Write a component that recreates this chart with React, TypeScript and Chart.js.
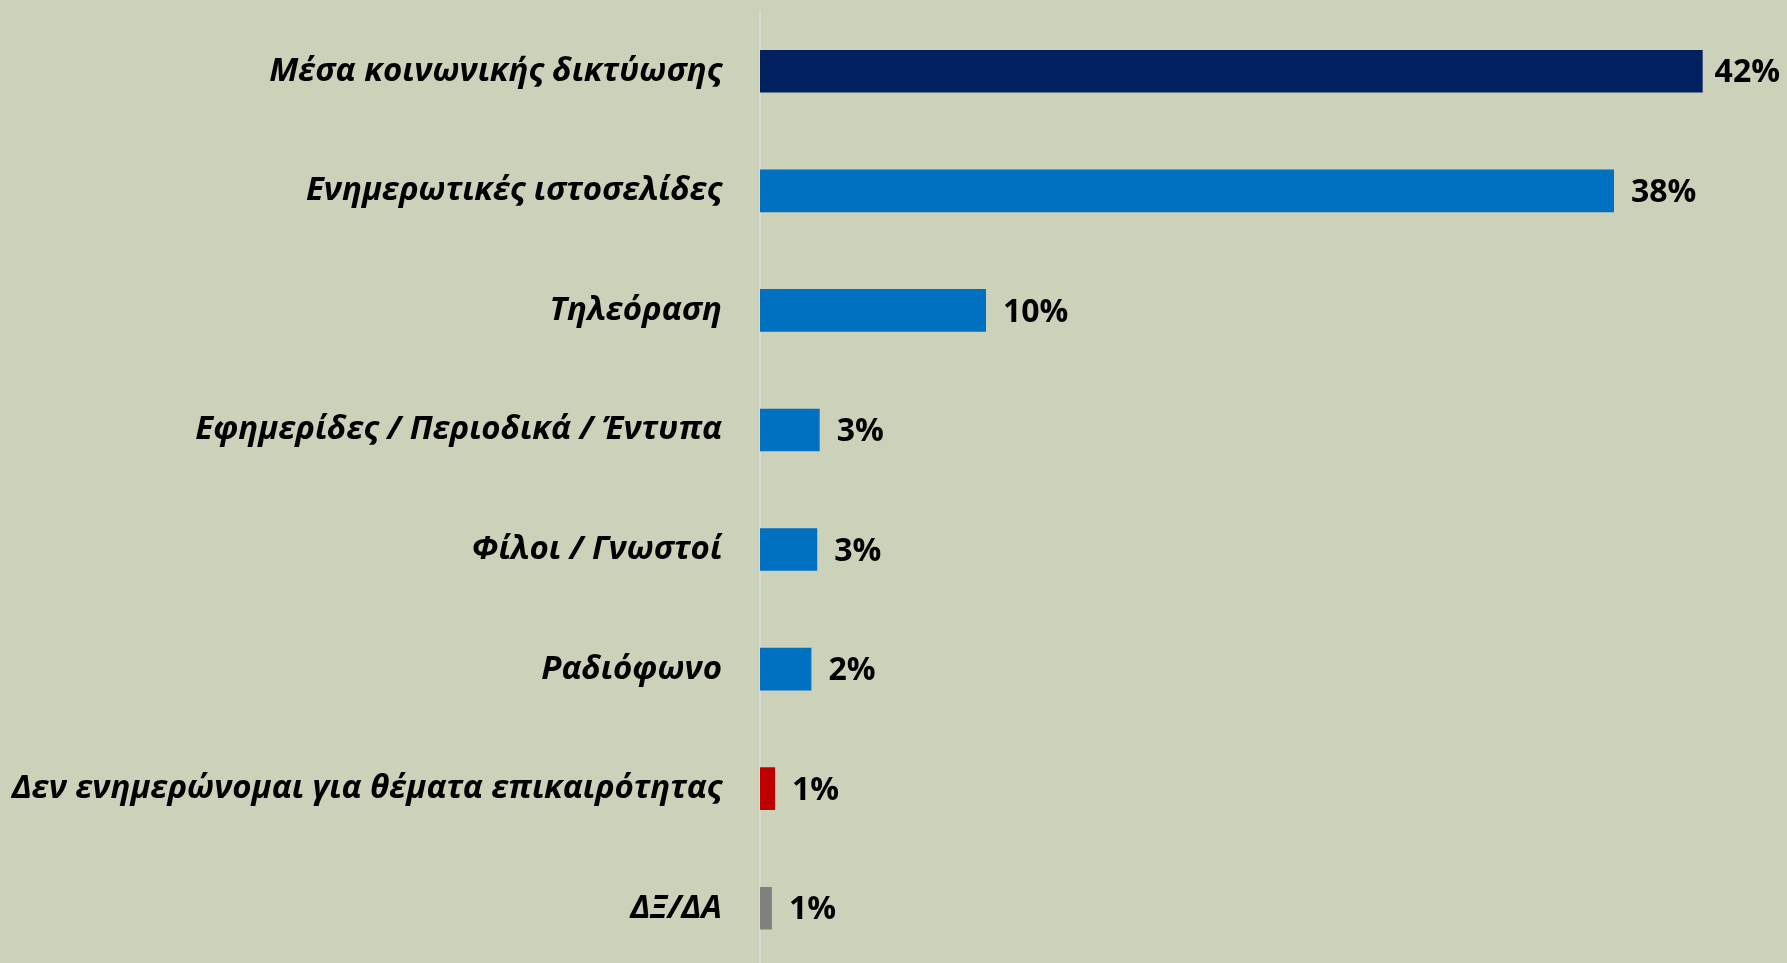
import React, { useEffect, useRef } from "react";
import { Chart, registerables } from "chart.js";

Chart.register(...registerables);

const categories = [
  "Μέσα κοινωνικής δικτύωσης",
  "Ενημερωτικές ιστοσελίδες",
  "Τηλεόραση",
  "Εφημερίδες / Περιοδικά / Έντυπα",
  "Φίλοι / Γνωστοί",
  "Ραδιόφωνο",
  "Δεν ενημερώνομαι για θέματα επικαιρότητας",
  "ΔΞ/ΔΑ",
];

const values = [42, 38.05, 10.07, 2.66, 2.55, 2.29, 0.67, 0.53];

const valueLabels = ["42%", "38%", "10%", "3%", "3%", "2%", "1%", "1%"];

const barColors = [
  "#002060",
  "#0070C0",
  "#0070C0",
  "#0070C0",
  "#0070C0",
  "#0070C0",
  "#C00000",
  "#808080",
];

const BG = "#CCD1BA";

export default function App() {
  const ref = useRef<HTMLCanvasElement | null>(null);

  useEffect(() => {
    if (!ref.current) return;
    const labelPlugin = {
      id: "valueLabels",
      afterDatasetsDraw(chart: any) {
        const ctx = chart.ctx;
        const meta = chart.getDatasetMeta(0);
        ctx.save();
        ctx.font = "bold 32px 'Open Sans'";
        ctx.fillStyle = "#000000";
        ctx.textAlign = "left";
        ctx.textBaseline = "middle";
        meta.data.forEach((bar: any, i: number) => {
          const w = ctx.measureText(valueLabels[i]).width;
          const x = Math.min(bar.x + 17, chart.width - 7 - w);
          ctx.fillText(valueLabels[i], x, bar.y + 2);
        });
        ctx.restore();
      },
    };
    const bgPlugin = {
      id: "bg",
      beforeDraw(chart: any) {
        const ctx = chart.ctx;
        ctx.save();
        ctx.fillStyle = BG;
        ctx.fillRect(0, 0, chart.width, chart.height);
        ctx.restore();
      },
    };
    const chart = new Chart(ref.current, {
      type: "bar",
      data: {
        labels: categories,
        datasets: [
          {
            data: values,
            backgroundColor: barColors,
            borderWidth: 0,
            barPercentage: 0.357,
            categoryPercentage: 1,
          },
        ],
      },
      options: {
        indexAxis: "y",
        animation: false,
        responsive: false,
        layout: { padding: { top: 11.5, right: 17, bottom: 0, left: 0 } },
        plugins: {
          legend: { display: false },
          tooltip: { enabled: false },
        },
        scales: {
          x: {
            display: false,
            min: 0,
            max: 45,
          },
          y: {
            afterFit: (s: any) => {
              s.width = 760;
              s.paddingTop = 0;
              s.paddingBottom = 0;
            },
            grid: { display: false, drawTicks: false },
            border: { display: true, color: "#D9D9D9", width: 2 },
            ticks: {
              color: "#000000",
              padding: 38,
              font: {
                family: "'Open Sans'",
                size: 33,
                style: "italic",
                weight: "bold",
              },
            },
          },
        },
      },
      plugins: [bgPlugin, labelPlugin],
    });
    return () => chart.destroy();
  }, []);

  return (
    <div
      style={{
        position: "fixed",
        left: 0,
        top: 0,
        width: 1787,
        height: 963,
        overflow: "hidden",
        background: BG,
      }}
    >
      <canvas
        ref={ref}
        width={1787}
        height={968}
        style={{ display: "block", width: 1787, height: 968 }}
      />
    </div>
  );
}
